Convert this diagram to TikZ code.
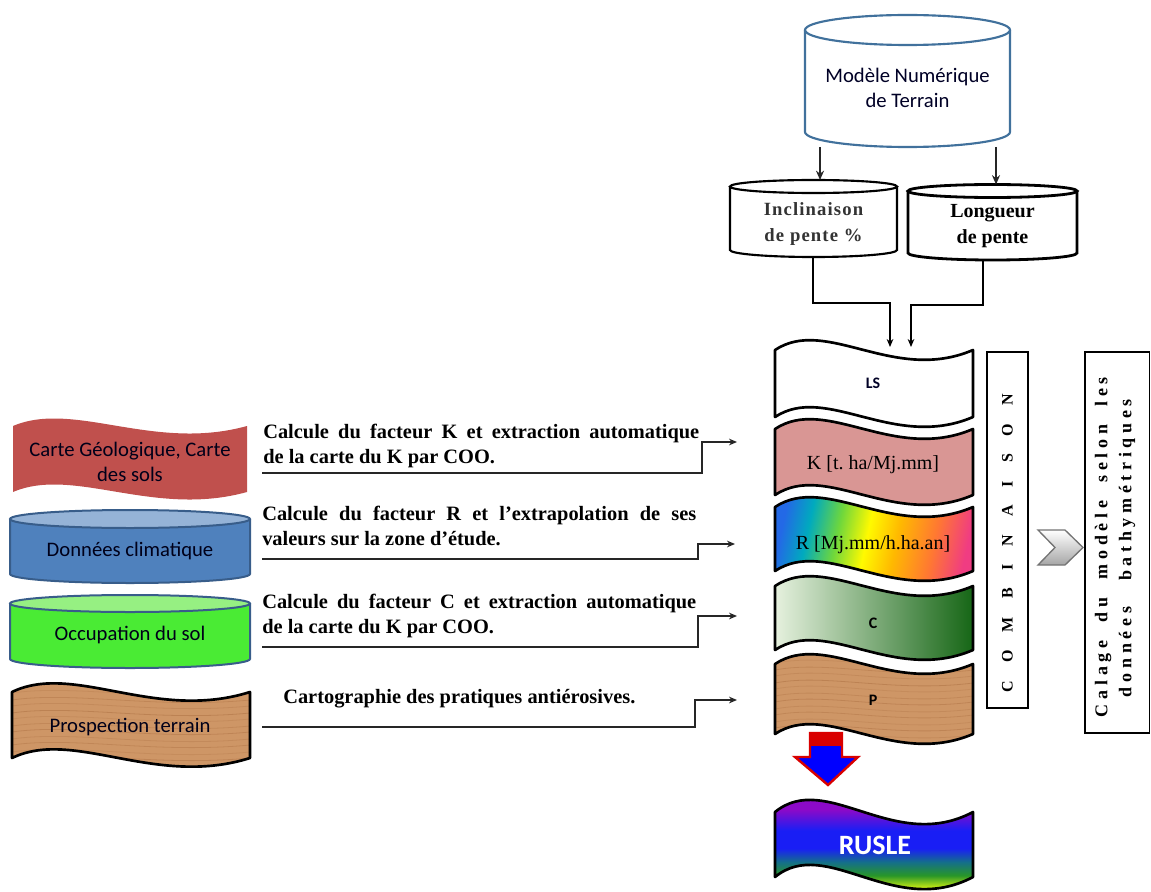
\documentclass[tikz,border=0pt]{standalone}
\usepackage{fontspec}
\setmainfont{Liberation Serif}
\setsansfont{Carlito}
\usetikzlibrary{arrows.meta}
\frenchspacing
\newlength\pxu \setlength\pxu{0.75pt}
\definecolor{mntblue}{RGB}{65,113,156}
\definecolor{krose}{RGB}{217,150,148}
\definecolor{redflag}{RGB}{192,80,77}
\definecolor{donfill}{RGB}{79,129,189}
\definecolor{dontop}{RGB}{149,179,215}
\definecolor{cyledge}{RGB}{56,93,138}
\definecolor{occfill}{RGB}{74,235,52}
\definecolor{occtop}{RGB}{150,240,130}
\definecolor{wood}{RGB}{206,150,102}
\definecolor{streak}{RGB}{172,112,66}
\definecolor{clight}{RGB}{230,241,222}
\definecolor{cdark}{RGB}{22,102,22}
\definecolor{rb1}{RGB}{35,105,230}
\definecolor{rb2}{RGB}{0,170,190}
\definecolor{rb3}{RGB}{110,215,60}
\definecolor{rb4}{RGB}{255,250,0}
\definecolor{rb5}{RGB}{255,185,0}
\definecolor{rb6}{RGB}{255,120,50}
\definecolor{rb7}{RGB}{240,60,130}
\definecolor{ru1}{RGB}{200,235,20}
\definecolor{ru2}{RGB}{40,150,40}
\definecolor{ru3}{RGB}{20,110,140}
\definecolor{ru4}{RGB}{25,30,245}
\definecolor{ru5}{RGB}{140,10,200}
\pgfdeclarehorizontalshading{rainbowR}{100bp}{color(0bp)=(rb1); color(25bp)=(rb1); color(32bp)=(rb2); color(40bp)=(rb3); color(48bp)=(rb4); color(56bp)=(rb5); color(66bp)=(rb6); color(75bp)=(rb7); color(100bp)=(rb7)}
\pgfdeclareverticalshading{rusleS}{100bp}{color(0bp)=(ru1); color(35.5bp)=(ru1); color(39.6bp)=(ru2); color(44.2bp)=(ru3); color(48.7bp)=(ru4); color(54.7bp)=(ru4); color(61.7bp)=(ru5); color(100bp)=(ru5)}
\tikzset{
  wave/.style n args={5}{insert path={(#1,#2) .. controls ({#1+0.26*#3},{#2-#5}) and ({#1+0.6*#3},{#2+#5}) .. ({#1+#3},#2) -- ({#1+#3},{#2+#4}) .. controls ({#1+0.6*#3},{#2+#4+#5}) and ({#1+0.26*#3},{#2+#4-#5}) .. (#1,{#2+#4}) -- cycle}},
  band/.style={draw=black, line width=2pt, line join=round},
  conn/.style={draw=black!85, line width=1.2pt},
  arr/.style={-{Stealth[length=6pt,width=5pt]}},
  thin/.style={draw=black, line width=0.8pt},
  sanslbl/.style={font=\sffamily\fontsize{15.5}{18.5}\selectfont, text=black!90!blue, align=center, inner sep=0pt},
  desc/.style={font=\bfseries\fontsize{15.3}{18}\selectfont, anchor=base west, inner sep=0pt},
}
\begin{document}
\begin{tikzpicture}[x=0.75pt,y=-0.75pt]
\useasboundingbox (0,0) rectangle (1151,891);

% ---------- MNT cylinder ----------
\path[fill=white, draw=mntblue, line width=1.6pt] (805,30) -- (805,132) arc[start angle=180, end angle=0, x radius=102.5, y radius=15] -- (1010,30);
\draw[mntblue, line width=1.6pt] (907.5,30) ellipse[x radius=102.5, y radius=15];
\node[sanslbl, font=\sffamily\fontsize{15.5}{19}\selectfont, text=black!85!blue] (mnt) at (907.5,88) {Modèle Numérique\\de Terrain};
\coordinate (mntL) at (820,147);
\coordinate (mntR) at (996,147);

% ---------- slope cylinders ----------
\path[fill=white, draw=black, line width=1.6pt] (730,186.5) -- (730,250) arc[start angle=180, end angle=0, x radius=83.5, y radius=7] -- (897,186.5);
\draw[black, line width=1.6pt] (813.5,186.5) ellipse[x radius=83.5, y radius=6.5];
\path[fill=white, draw=black, line width=2.1pt] (908,191) -- (908,253) arc[start angle=180, end angle=0, x radius=84.5, y radius=7] -- (1077,191);
\draw[black, line width=2.1pt] (992.5,191) ellipse[x radius=84.5, y radius=6.5];
\node[font=\bfseries\fontsize{14}{20}\selectfont, align=center, inner sep=0pt, text=black!80] (incl) at (813.5,224) {\addfontfeature{LetterSpace=6}Inclinaison\\\addfontfeature{LetterSpace=6}de pente \%};
\node[font=\bfseries\fontsize{15}{20}\selectfont, align=center, inner sep=0pt] (long) at (992.5,226) {Longueur\\de pente};
\coordinate (inclTop) at (820,180);
\coordinate (longTop) at (996,184.5);
\coordinate (inclB) at (813,257);
\coordinate (longB) at (983,260);
\coordinate (lsA) at (890,347);
\coordinate (lsB) at (911,347);

\draw[conn, line width=1.6pt, -{Stealth[length=7pt,width=6pt]}] (mntL) -- (inclTop);
\draw[conn, line width=1.6pt, -{Stealth[length=7pt,width=6pt]}] (mntR) -- (longTop);
\draw[thin, arr] (inclB) |- (890,303) -- (lsA);
\draw[thin, arr] (longB) |- (911,305) -- (lsB);

% ---------- big arrow P -> RUSLE ----------
\path[fill=blue, draw=red!85!black, line width=1.8pt, line join=miter] (810,733) -- (842,733) -- (842,757) -- (858,757) -- (828,785) -- (795,757) -- (810,757) -- cycle;
\fill[red!85!black] (810,733) rectangle (842,746);

% ---------- factor bands ----------
\path[band, fill=white, wave={775}{350}{198}{67}{34}];
\node[font=\sffamily\bfseries\fontsize{12}{14}\selectfont, text=black!85!blue] (LS) at (873,383) {LS};

\path[band, fill=krose, wave={775}{429}{198}{66}{34}];
\node[font=\fontsize{15}{17}\selectfont] (K) at (873,465) {K [t. ha/Mj.mm]};

\path[shading=rainbowR, shading angle=-12, wave={775}{507}{198}{64}{34}];
\path[band, wave={775}{507}{198}{64}{34}];
\node[font=\fontsize{15}{17}\selectfont] (R) at (873,545) {R [Mj.mm/h.ha.an]};

\path[left color=clight, right color=cdark, wave={775}{586}{198}{64}{34}];
\path[band, wave={775}{586}{198}{64}{34}];
\node[font=\sffamily\bfseries\fontsize{12}{14}\selectfont] (C) at (873,623) {C};

\path[fill=wood, wave={775}{664}{198}{70}{34}];
\begin{scope}
\clip[wave={775}{664}{198}{70}{34}];
\foreach \yy/\op in {650/0.3,657/0.45,663/0.25,670/0.4,676/0.3,683/0.5,689/0.25,696/0.35,702/0.45,709/0.3,715/0.4,722/0.25,728/0.45,735/0.3,741/0.4,748/0.3}
  \draw[streak, opacity=\op, line width=0.6pt] (775,\yy) .. controls (826,{\yy-10}) and (894,{\yy+10}) .. (973,\yy);
\end{scope}
\path[band, wave={775}{664}{198}{70}{34}];
\node[font=\sffamily\bfseries\fontsize{12}{14}\selectfont] (P) at (873,700) {P};

% ---------- RUSLE ----------
\path[shading=rusleS, wave={775}{812}{198}{65}{42}];
\path[band, wave={775}{812}{198}{65}{42}];
\node[font=\sffamily\bfseries\fontsize{21}{24}\selectfont, text=white] (rusle) at (875,845) {RUSLE};

% ---------- COMBINAISON box ----------
\draw[black, line width=1.3pt] (987,352) rectangle (1028,708);
\node[rotate=90, font=\bfseries\fontsize{12}{14}\selectfont, inner sep=0pt] (comb) at (1007.5,543) {\makebox[298\pxu][s]{C O M B I N A I S O N}};

% ---------- chevron ----------
\path[top color=white, bottom color=black!35, draw=black!55, line width=1pt, line join=miter] (1038,530) -- (1065,530) -- (1083,547.5) -- (1065,565) -- (1038,565) -- (1055,547.5) -- cycle;

% ---------- calage box ----------
\draw[black, line width=1.3pt] (1085,352) rectangle (1149.5,733);
\node[rotate=90, font=\bfseries\fontsize{13.5}{16}\selectfont, inner sep=0pt] (cal1) at (1103,547) {\makebox[340\pxu][s]{\addfontfeature{LetterSpace=26}Calage du modèle selon les}};
\node[rotate=90, font=\bfseries\fontsize{13.5}{16}\selectfont, inner sep=0pt] (cal2) at (1127,548) {\makebox[298\pxu][s]{\addfontfeature{LetterSpace=26}données bathymétriques}};

% ---------- left inputs ----------
\path[fill=redflag, wave={13}{426}{234}{66}{26}];
\node[sanslbl] (geo) at (130,462) {Carte Géologique, Carte\\des sols};

\path[fill=donfill, draw=cyledge, line width=1.5pt] (10,519) -- (10,574) arc[start angle=180, end angle=0, x radius=120, y radius=9] -- (250,519);
\draw[fill=dontop, draw=cyledge, line width=1.5pt] (130,519) ellipse[x radius=120, y radius=9];
\node[sanslbl] (clim) at (130,551) {Données climatique};

\path[fill=occfill, draw=cyledge, line width=1.5pt] (10,603.5) -- (10,659) arc[start angle=180, end angle=0, x radius=120, y radius=9] -- (250,603.5);
\draw[fill=occtop, draw=cyledge, line width=1.5pt] (130,603.5) ellipse[x radius=120, y radius=8.5];
\node[sanslbl] (occ) at (130,635) {Occupation du sol};

\path[fill=wood, wave={12}{692}{238}{66}{30}];
\begin{scope}
\clip[wave={12}{692}{238}{66}{30}];
\foreach \yy/\op in {680/0.3,687/0.45,693/0.25,700/0.4,706/0.3,713/0.5,719/0.25,726/0.35,732/0.45,739/0.3,745/0.4,752/0.25,758/0.45,765/0.3,771/0.4}
  \draw[streak, opacity=\op, line width=0.6pt] (12,\yy) .. controls (74,{\yy-9}) and (155,{\yy+9}) .. (250,\yy);
\end{scope}
\path[band, wave={12}{692}{238}{66}{30}];
\node[sanslbl] (prosp) at (130,727) {Prospection terrain};

% ---------- descriptions and connectors ----------
\node[desc] (t1a) at (263,438) {\makebox[436\pxu][s]{Calcule du facteur K et extraction automatique}};
\node[desc] (t1b) at (263,463) {de la carte du K par COO.};
\node[desc] (t2a) at (262,520) {\makebox[434\pxu][s]{Calcule du facteur R et l’extrapolation de ses}};
\node[desc] (t2b) at (262,545) {valeurs sur la zone d’étude.};
\node[desc] (t3a) at (262,608) {\makebox[434\pxu][s]{Calcule du facteur C et extraction automatique}};
\node[desc] (t3b) at (262,633) {de la carte du K par COO.};
\node[desc] (t4) at (283,703) {Cartographie des pratiques antiérosives.};

\coordinate (c1s) at (262,473); \coordinate (c1e) at (737,442);
\coordinate (c2s) at (262,559); \coordinate (c2e) at (735,544);
\coordinate (c3s) at (262,647); \coordinate (c3e) at (737,616);
\coordinate (c4s) at (262,727); \coordinate (c4e) at (737,700);
\draw[conn, arr] (c1s) -- (702,473) |- (c1e);
\draw[conn, arr] (c2s) -- (698,559) |- (c2e);
\draw[conn, arr] (c3s) -- (698,647) |- (c3e);
\draw[conn, arr] (c4s) -- (695,727) |- (c4e);
\end{tikzpicture}
\end{document}
